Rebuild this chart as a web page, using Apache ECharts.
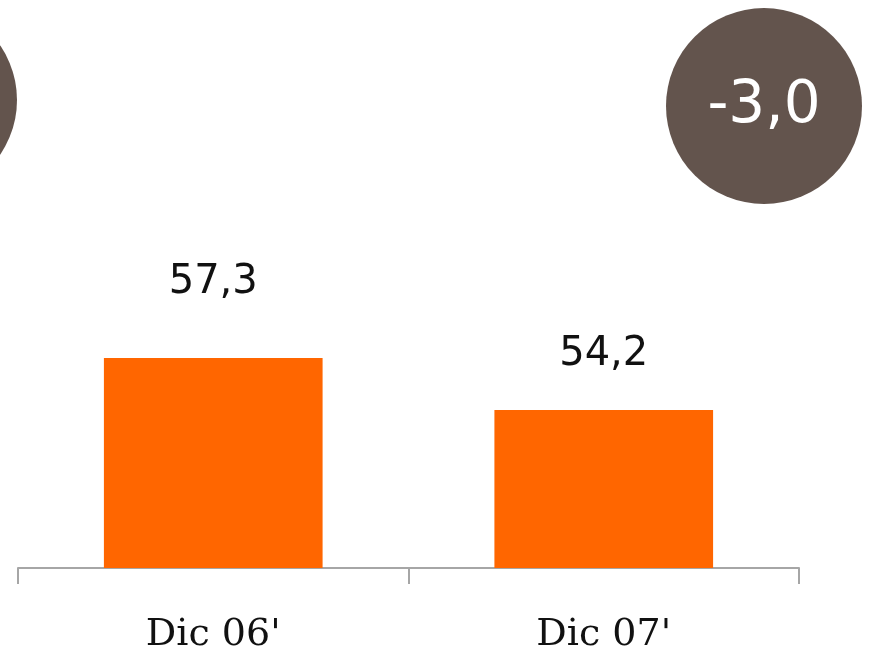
<!DOCTYPE html>
<html>
<head>
<meta charset="utf-8">
<style>html,body{margin:0;padding:0;background:#fff;}#c{width:870px;height:663px;}</style>
<script src="https://cdn.jsdelivr.net/npm/echarts@6/dist/echarts.min.js"></script>
</head>
<body>
<div id="c"></div>
<script>
var categories = ["Dic 06'", "Dic 07'"];
var values = [57.3, 54.2];
var deltaText = "-3,0";
var labelDistances = [55, 35];

var chart = echarts.init(document.getElementById('c'));
var fmt = function (v) { return v.toFixed(1).replace('.', ','); };
chart.setOption({
  animation: false,
  backgroundColor: '#ffffff',
  grid: { left: 18, right: 71, top: 100, bottom: 95 },
  xAxis: {
    type: 'category',
    data: categories,
    axisLine: { show: true, lineStyle: { color: '#a6a6a6', width: 2 } },
    axisTick: { show: true, length: 16, lineStyle: { color: '#a6a6a6', width: 2 } },
    axisLabel: { margin: 48, fontFamily: '"DejaVu Serif", serif', fontSize: 38, color: '#111' }
  },
  yAxis: {
    type: 'value', min: 44.78, max: 72.68, show: false,
    splitLine: { show: false }
  },
  series: [{
    type: 'bar',
    barWidth: '56%',
    itemStyle: { color: '#ff6600' },
    data: values.map(function (v, i) {
      return { value: v, label: { distance: labelDistances[i] } };
    }),
    label: {
      show: true, position: 'top',
      fontFamily: '"DejaVu Sans"', fontSize: 40, color: '#111',
      formatter: function (p) { return fmt(p.value); }
    }
  }],
  graphic: [
    { type: 'circle', shape: { cx: -80, cy: 100, r: 97 }, style: { fill: '#63544d' }, silent: true },
    { type: 'circle', shape: { cx: 764, cy: 106, r: 98 }, style: { fill: '#63544d' }, silent: true },
    { type: 'text', x: 764, y: 107, style: { text: deltaText, fill: '#ffffff', fontFamily: '"DejaVu Sans"', fontSize: 58, align: 'center', verticalAlign: 'middle' }, silent: true }
  ]
});
</script>
</body>
</html>
